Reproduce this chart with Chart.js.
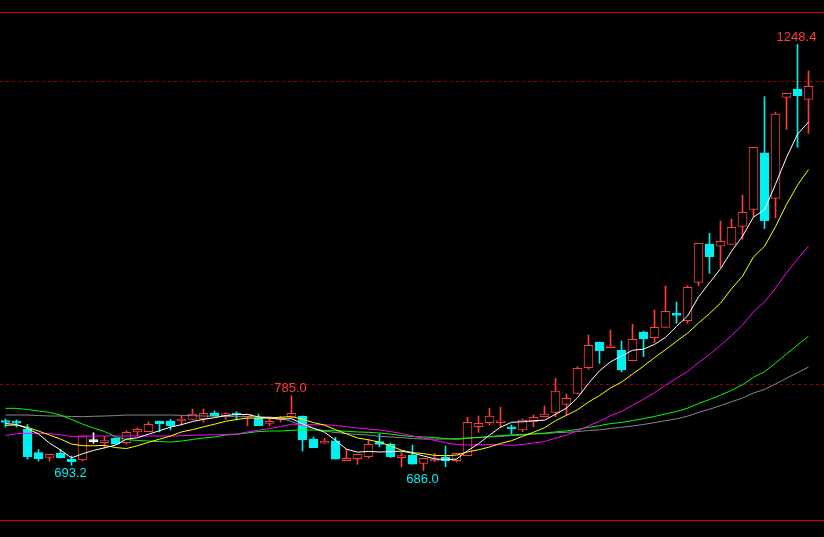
<!DOCTYPE html>
<html>
<head>
<meta charset="utf-8">
<script src="https://cdn.jsdelivr.net/npm/chart.js@4.4.1/dist/chart.umd.min.js"></script>
<style>
html,body{margin:0;padding:0;background:#000;overflow:hidden}
#wrap{width:824px;height:537px;position:relative}
</style>
</head>
<body>
<div id="wrap"><canvas id="c"></canvas></div>
<script>
// ---- data ----
const open = [751.6,750.3,741.0,709.8,703.7,709.0,701.0,700.1,724.3,723.0,
 728.8,723.0,737.1,737.5,751.6,751.6,751.6,753.8,754.2,762.5,
 758.6,760.8,757.3,755.1,748.5,753.6,756.5,758.2,727.8,722.2,
 725.6,699.2,701.8,704.5,724.3,721.2,703.2,706.7,695.8,698.8,
 703.7,699.2,705.8,744.1,749.3,749.3,743.7,739.7,750.7,757.3,
 763.0,773.6,788.1,821.9,855.8,848.3,845.2,831.1,869.0,861.5,
 875.2,893.1,883.9,934.6,985.1,982.1,984.7,1008.4,1030.9,1105.5,
 1045.4,1178.6,1189.6,1176.0];
const high = [754.2,752.9,747.0,714.0,708.0,714.0,705.4,731.1,736.1,730.9,
 729.8,738.8,742.7,750.7,751.6,753.8,758.2,767.4,767.4,764.8,
 762.5,763.8,760.8,760.8,756.5,757.5,785.0,758.2,730.5,728.8,
 730.1,714.6,707.6,727.4,734.4,722.5,711.1,719.9,702.4,709.0,
 718.6,709.0,756.5,758.2,768.3,769.7,746.3,754.2,759.5,771.4,
 807.9,787.2,823.2,865.0,855.8,871.6,857.1,879.2,870.3,898.0,
 929.7,908.6,930.1,986.0,999.2,1015.4,1018.1,1049.7,1112.7,1179.4,
 1159.2,1183.9,1248.4,1213.3];
const low = [743.7,743.7,701.4,698.8,698.8,702.8,693.2,698.8,722.2,716.0,
 721.2,721.2,732.2,737.5,737.1,739.7,746.3,752.9,749.9,758.2,
 753.8,752.9,745.4,745.4,745.4,750.3,755.5,712.0,716.3,722.2,
 701.4,699.2,694.5,702.4,717.7,703.2,691.3,694.8,686.0,697.9,
 691.3,697.5,705.8,736.7,746.3,743.7,734.4,737.5,744.1,756.9,
 757.3,759.5,787.2,819.8,827.7,848.3,816.6,831.1,836.4,854.9,
 875.2,880.5,880.5,930.1,946.4,954.4,984.7,991.3,1021.1,1005.3,
 1019.8,1136.4,1112.7,1131.1];
const close = [749.6,748.9,704.7,701.8,707.6,703.2,697.9,730.9,724.3,725.2,
 721.2,736.7,740.6,747.2,748.0,745.4,752.9,760.8,761.7,758.6,
 760.4,759.5,760.8,745.4,750.7,754.9,761.7,726.5,716.3,725.2,
 701.4,702.4,707.6,720.8,720.8,704.5,705.4,694.8,702.4,701.4,
 699.2,709.0,749.9,748.5,758.2,751.6,741.4,752.9,756.5,760.8,
 791.2,781.5,821.1,851.4,844.3,850.1,818.9,859.4,859.8,875.2,
 896.3,891.0,928.0,986.0,968.3,988.7,1007.1,1026.9,1112.7,1015.8,
 1156.6,1183.9,1180.7,1193.1];

const ma5 = [748.3,747.0,741.7,734.4,722.5,713.3,703.0,708.3,712.8,716.2,
 719.9,727.7,729.5,734.2,738.8,743.5,746.8,750.9,753.8,755.9,
 758.8,760.2,760.2,757.0,755.4,754.2,754.7,747.9,742.1,736.9,
 726.2,714.4,710.5,711.5,710.7,711.2,711.9,709.2,705.5,701.7,
 700.6,701.3,712.4,721.6,733.0,743.4,749.9,750.5,752.1,752.6,
 760.5,768.6,782.2,801.2,817.9,829.7,837.2,844.9,846.4,852.6,
 861.9,876.4,890.1,915.3,933.9,952.4,975.6,995.4,1020.7,1030.2,
 1063.9,1099.2,1130.0,1146.1];
const ma10 = [745.9,746.3,743.3,738.4,733.1,727.8,721.2,719.0,718.9,719.4,
 716.6,715.3,719.0,723.5,727.6,731.8,737.2,740.2,743.9,747.4,
 751.2,753.6,755.5,755.4,755.7,756.6,757.4,754.0,749.5,746.2,
 740.2,734.6,729.2,726.8,723.7,718.7,713.1,709.9,708.6,706.2,
 705.9,706.6,710.8,713.6,717.3,722.0,725.6,731.4,736.8,742.7,
 752.0,759.2,766.4,776.6,785.2,795.1,802.9,813.5,823.9,835.2,
 845.8,856.7,867.4,880.9,893.3,907.1,926.0,942.7,968.1,982.1,
 1008.0,1037.3,1062.7,1083.4];
const ma20 = [732.4,734.8,735.4,735.4,734.8,733.5,730.9,731.8,731.8,731.8,
 731.8,731.8,731.8,731.8,731.8,731.8,732.2,732.7,733.1,733.4,
 733.9,734.4,737.2,739.4,741.6,744.2,747.4,747.1,746.7,746.7,
 745.8,744.1,742.3,741.0,739.7,737.6,735.2,731.9,729.0,726.1,
 723.1,720.6,720.0,720.2,720.6,720.4,719.4,720.7,722.7,724.5,
 729.0,733.0,738.7,745.1,751.3,758.6,764.2,772.4,780.3,789.0,
 798.9,808.0,816.9,828.8,839.3,851.2,864.4,878.1,895.9,908.7,
 926.9,947.1,965.0,982.2];
const ma40 = [768.3,768.3,766.8,764.8,763.0,759.5,753.6,747.6,742.3,737.7,
 731.1,727.2,725.9,725.2,724.5,723.9,725.2,727.2,729.2,730.5,
 733.1,734.0,736.0,737.7,738.4,738.4,739.3,739.7,739.7,739.0,
 738.7,738.1,737.1,736.7,735.7,734.4,732.4,731.1,730.5,729.8,
 728.5,727.4,728.6,729.8,731.0,732.3,733.4,733.9,734.7,735.6,
 737.3,738.5,740.5,743.1,745.5,748.2,749.7,752.2,754.7,757.6,
 761.0,764.2,768.5,774.5,780.0,785.7,792.0,799.5,809.4,816.6,
 828.0,840.0,851.8,863.6];
const ma60 = [759.5,759.5,759.5,758.8,758.2,758.2,757.5,757.3,757.8,758.2,
 758.8,759.5,759.5,759.5,759.5,759.5,759.1,758.6,758.2,757.8,
 757.5,757.3,757.3,756.9,756.9,755.5,750.9,745.6,741.7,738.4,
 736.4,735.1,733.8,733.1,731.4,730.5,729.8,728.5,727.8,727.8,
 727.8,728.5,729.4,730.1,730.7,731.1,732.4,733.1,734.4,735.1,
 736.1,736.7,737.7,739.0,740.0,741.7,743.3,745.0,747.0,749.5,
 752.0,754.4,758.0,762.8,767.1,771.9,777.0,781.9,788.5,793.3,
 800.5,808.0,815.3,822.8];

const categories = open.map((_, i) => String(i + 1));
const gridLevels = [800, 1200];
const highMarks = [72, 26];
const lowMarks = [6, 38];
const yMin = 621.0, yMax = 1291.2;

// ---- styling ----
const UP = '#ff3c3c', DOWN = '#00f0f0', FLAT = '#ffffff';
const candleColor = open.map((o, i) => close[i] > o ? UP : (close[i] < o ? DOWN : FLAT));

const framePlugin = {
  id: 'frame',
  beforeDatasetsDraw(chart) {
    const { ctx, chartArea, scales } = chart;
    const W = chart.width;
    ctx.save();
    ctx.lineWidth = 1;
    ctx.setLineDash([]);
    ctx.strokeStyle = '#d00000';
    [chartArea.top, chartArea.bottom].forEach(p => {
      const yy = Math.round(p) + 0.5;
      ctx.beginPath(); ctx.moveTo(0, yy); ctx.lineTo(W, yy); ctx.stroke();
    });
    ctx.strokeStyle = '#980000';
    ctx.setLineDash([3, 3]);
    gridLevels.forEach(v => {
      const yy = Math.round(scales.y.getPixelForValue(v)) + 0.5;
      ctx.beginPath(); ctx.moveTo(0, yy); ctx.lineTo(W, yy); ctx.stroke();
    });
    ctx.restore();
  },
  afterDatasetsDraw(chart) {
    const { ctx, scales } = chart;
    ctx.save();
    ctx.font = '13px "Liberation Sans", Arial, sans-serif';
    ctx.textAlign = 'center';
    highMarks.forEach(i => {
      ctx.fillStyle = UP;
      ctx.textBaseline = 'bottom';
      ctx.fillText(high[i].toFixed(1), scales.x.getPixelForValue(i) - 1, scales.y.getPixelForValue(high[i]) - 1);
    });
    lowMarks.forEach(i => {
      ctx.fillStyle = DOWN;
      ctx.textBaseline = 'top';
      ctx.fillText(low[i].toFixed(1), scales.x.getPixelForValue(i) - 1, scales.y.getPixelForValue(low[i]) + 2);
    });
    ctx.restore();
  }
};

const line = (data, color) => ({
  type: 'line', data, borderColor: color, borderWidth: 1,
  pointRadius: 0, tension: 0, fill: false
});

new Chart(document.getElementById('c'), {
  type: 'bar',
  data: {
    labels: categories,
    datasets: [
      line(ma5, '#ffffff'),
      line(ma10, '#ffff00'),
      line(ma20, '#ff00ff'),
      line(ma40, '#00ff00'),
      line(ma60, '#888888'),
      {
        type: 'bar',
        data: open.map((o, i) => [o, close[i]]),
        backgroundColor: candleColor.map(c => c === UP ? '#000000' : c),
        borderColor: candleColor,
        borderWidth: 1,
        borderSkipped: false,
        barThickness: 9,
        minBarLength: 2,
        grouped: false
      },
      {
        type: 'bar',
        data: low.map((l, i) => [l, high[i]]),
        backgroundColor: candleColor,
        borderWidth: 0,
        barThickness: 1,
        grouped: false
      }
    ]
  },
  options: {
    responsive: true,
    maintainAspectRatio: false,
    devicePixelRatio: 1,
    animation: false,
    events: [],
    layout: { padding: { left: 0, right: 10, top: 12, bottom: 17 } },
    plugins: { legend: { display: false }, tooltip: { enabled: false } },
    scales: {
      x: { type: 'category', display: false, offset: true, grid: { display: false } },
      y: { type: 'linear', display: false, min: yMin, max: yMax, grid: { display: false } }
    }
  },
  plugins: [framePlugin]
});
</script>
</body>
</html>
